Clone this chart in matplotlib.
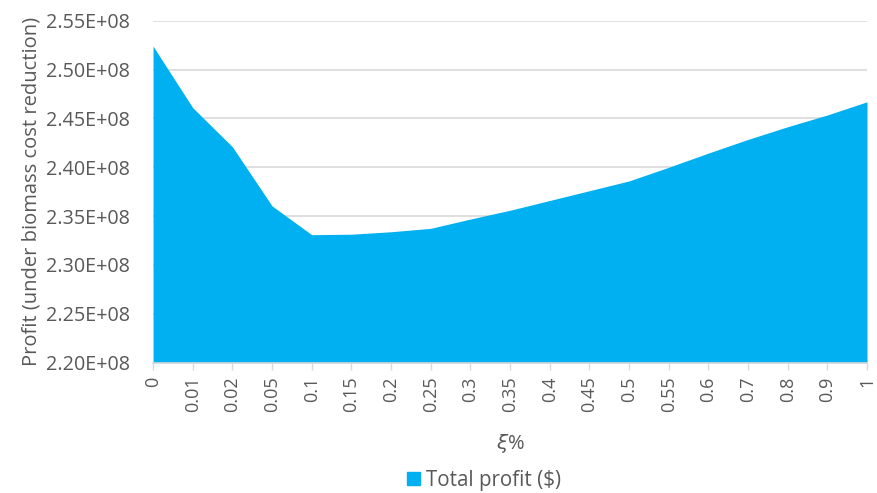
import matplotlib
matplotlib.use("Agg")
import matplotlib.pyplot as plt
import matplotlib.ticker as mticker
from matplotlib.patches import Patch

# xi levels (categorical axis) and total profit in $
xi_labels = ["0", "0.01", "0.02", "0.05", "0.1", "0.15", "0.2", "0.25", "0.3", "0.35",
             "0.4", "0.45", "0.5", "0.55", "0.6", "0.7", "0.8", "0.9", "1"]
total_profit = [252.4e6, 246.1e6, 242.1e6, 236.05e6, 233.1e6, 233.15e6, 233.4e6, 233.75e6,
                234.7e6, 235.6e6, 236.6e6, 237.6e6, 238.6e6, 240.0e6, 241.45e6, 242.85e6,
                244.15e6, 245.35e6, 246.7e6]

FILL = "#00B0F0"
TXT = "#595959"
GRID = "#D9D9D9"

plt.rcParams["font.family"] = ["Open Sans", "DejaVu Sans"]

fig = plt.figure(figsize=(8.77, 4.93), dpi=100)
ax = fig.add_axes([0.1745, 0.2643, 0.8141, 0.6937])

x = list(range(len(xi_labels)))
ax.fill_between(x, 2.20e8, total_profit, color=FILL, linewidth=0, label="Total profit ($)")

ax.set_xlim(0, len(xi_labels) - 1)
ax.set_ylim(2.20e8, 2.55e8)
ax.yaxis.set_major_locator(mticker.MultipleLocator(0.05e8))
ax.yaxis.set_major_formatter(mticker.FuncFormatter(lambda v, p: f"{v:.2E}"))
ax.grid(axis="y", color=GRID, linewidth=1.2)
ax.set_axisbelow(True)

ax.set_xticks(x)
ax.set_xticklabels(xi_labels, rotation=90)
for s in ["top", "right", "left"]:
    ax.spines[s].set_visible(False)
ax.spines["bottom"].set_color(GRID)
ax.spines["bottom"].set_linewidth(1.2)
ax.spines["bottom"].set_zorder(3)
ax.tick_params(axis="x", colors=GRID, length=5, width=1, labelcolor=TXT, labelsize=13, pad=5)
ax.tick_params(axis="y", length=0, labelcolor=TXT, labelsize=14.2, pad=16.5)

ax.set_ylabel("Profit (under biomass cost reduction)", color=TXT, fontsize=14.5, labelpad=3)
ax.set_xlabel(r"$\xi$%", color=TXT, fontsize=14.5, labelpad=14)

fig.legend(handles=[Patch(color=FILL, label="Total profit ($)")], loc="center",
           bbox_to_anchor=(0.552, 0.026), frameon=False, fontsize=14.8, labelcolor=TXT,
           handlelength=0.65, handleheight=0.65, handletextpad=0.3, borderpad=0)

fig.savefig("out.png", dpi=100)
